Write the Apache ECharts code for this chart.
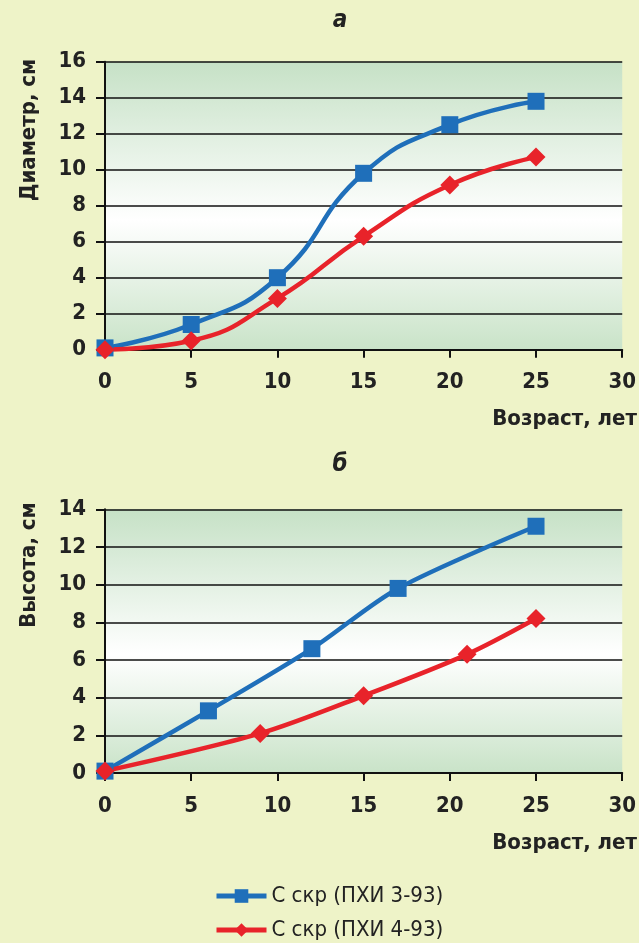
<!DOCTYPE html>
<html><head><meta charset="utf-8">
<script src="https://cdn.jsdelivr.net/npm/echarts@6/dist/echarts.min.js"></script>
<style>html,body{margin:0;padding:0;background:#eef3c8;}#c{width:639px;height:943px;}</style>
</head><body><div id="c"></div>
<script>
// Data
const diamAges = [0, 5, 10, 15, 20, 25];
const diamBlue = [0.1, 1.4, 4.0, 9.8, 12.5, 13.8];
const diamRed = [0.0, 0.5, 2.85, 6.3, 9.15, 10.7];
const heightAgesBlue = [0, 6, 12, 17, 25];
const heightBlue = [0.1, 3.3, 6.6, 9.8, 13.1];
const heightAgesRed = [0, 9, 15, 21, 25];
const heightRed = [0.1, 2.1, 4.1, 6.3, 8.2];
const xTicks = [0, 5, 10, 15, 20, 25, 30];
const seriesNames = ['С скр (ПХИ 3-93)', 'С скр (ПХИ 4-93)'];
const panelLabels = ['а', 'б'];
const yNames = ['Диаметр, см', 'Высота, см'];
const xName = 'Возраст, лет';

const pairs = (xs, ys) => xs.map((x, i) => [x, ys[i]]);
const FONT = "'DejaVu Sans Condensed','Open Sans',sans-serif";
const blue = '#1f6fba', red = '#e8232a';
const bg = {type:'linear',x:0,y:0,x2:0,y2:1,colorStops:[
  {offset:0,color:'#c6e1c6'},{offset:0.55,color:'#ffffff'},{offset:1,color:'#c9e3c8'}]};

function xAxis(gi){
  return {type:'value', gridIndex:gi, min:xTicks[0], max:xTicks[xTicks.length-1], interval:5,
    axisLine:{show:true,lineStyle:{color:'#111',width:2}},
    axisTick:{show:true,length:8,lineStyle:{color:'#111',width:2}},
    splitLine:{show:false},
    axisLabel:{margin:22,color:'#222',fontSize:22,fontWeight:'bold',fontFamily:FONT}};
}
function yAxis(gi,max){
  return {type:'value', gridIndex:gi, min:0, max:max, interval:2,
    axisLine:{show:true,lineStyle:{color:'#111',width:2}},
    axisTick:{show:true,length:9,lineStyle:{color:'#111',width:2}},
    splitLine:{show:true,lineStyle:{color:'#111',width:1.6}},
    axisLabel:{margin:19,color:'#222',fontSize:22,fontWeight:'bold',fontFamily:FONT}};
}
function ser(name,gi,data,color,symbol,size,smooth){
  return {name:name,type:'line',xAxisIndex:gi,yAxisIndex:gi,data:data,smooth:smooth,
    symbol:symbol,symbolSize:size,showSymbol:true,
    lineStyle:{color:color,width:4.5},itemStyle:{color:color},z:3};
}
const chart = echarts.init(document.getElementById('c'));
chart.setOption({
  animation:false,
  backgroundColor:'#eef3c8',
  grid:[
    {left:105,top:61.7,width:518,height:288,show:true,backgroundColor:bg,borderWidth:0},
    {left:105,top:509.3,width:518,height:263.7,show:true,backgroundColor:bg,borderWidth:0}
  ],
  xAxis:[xAxis(0),xAxis(1)],
  yAxis:[yAxis(0,16),yAxis(1,14)],
  legend:{orient:'vertical',left:214,top:885,padding:0,itemWidth:50,itemHeight:17,itemGap:12,
    lineStyle:{width:5},
    textStyle:{fontSize:22,color:'#222',fontFamily:FONT},data:seriesNames},
  series:[
    ser(seriesNames[0],0,pairs(diamAges,diamBlue),blue,'rect',17,0.5),
    ser(seriesNames[1],0,pairs(diamAges,diamRed),red,'diamond',19,0.5),
    ser(seriesNames[0],1,pairs(heightAgesBlue,heightBlue),blue,'rect',17,0.3),
    ser(seriesNames[1],1,pairs(heightAgesRed,heightRed),red,'diamond',19,0.3)
  ],
  graphic:[
    {type:'text',x:340,y:21,style:{text:panelLabels[0],font:"italic bold 24px "+FONT,fill:'#222',align:'center',verticalAlign:'middle'}},
    {type:'text',x:340,y:465,style:{text:panelLabels[1],font:"italic bold 24px "+FONT,fill:'#222',align:'center',verticalAlign:'middle'}},
    {type:'text',x:29,y:130,rotation:Math.PI/2,style:{text:yNames[0],font:"bold 22px "+FONT,fill:'#222',align:'center',verticalAlign:'middle'}},
    {type:'text',x:29,y:565,rotation:Math.PI/2,style:{text:yNames[1],font:"bold 22px "+FONT,fill:'#222',align:'center',verticalAlign:'middle'}},
    {type:'text',x:637,y:419,style:{text:xName,font:"bold 22px "+FONT,fill:'#222',align:'right',verticalAlign:'middle'}},
    {type:'text',x:637,y:843,style:{text:xName,font:"bold 22px "+FONT,fill:'#222',align:'right',verticalAlign:'middle'}}
  ]
});
</script></body></html>
